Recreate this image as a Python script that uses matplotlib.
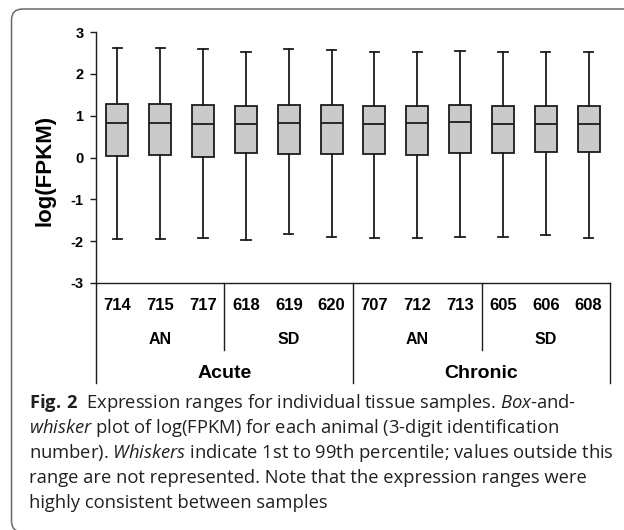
import matplotlib
matplotlib.use("Agg")
import matplotlib.pyplot as plt
import matplotlib.transforms as mtransforms
from matplotlib.patches import FancyBboxPatch

# dados (log FPKM)
amostras = ["714", "715", "717", "618", "619", "620", "707", "712", "713", "605", "606", "608"]
grupos = ["AN", "SD", "AN", "SD"]
fases = ["Acute", "Chronic"]

q1 = [0.04, 0.06, 0.02, 0.10, 0.08, 0.08, 0.08, 0.07, 0.10, 0.10, 0.13, 0.13]
mediana = [0.82, 0.82, 0.81, 0.80, 0.82, 0.83, 0.81, 0.83, 0.84, 0.81, 0.81, 0.81]
q3 = [1.28, 1.28, 1.26, 1.24, 1.26, 1.26, 1.24, 1.24, 1.26, 1.24, 1.24, 1.24]
whis_baixo = [-1.96, -1.96, -1.93, -1.97, -1.84, -1.90, -1.93, -1.93, -1.90, -1.90, -1.85, -1.93]
whis_alto = [2.62, 2.62, 2.60, 2.51, 2.59, 2.57, 2.52, 2.53, 2.55, 2.53, 2.53, 2.51]

legenda = [
    r"$\mathbf{Fig.\,2}$  Expression ranges for individual tissue samples. $\mathit{Box}$-and-",
    r"$\mathit{whisker}$ plot of log(FPKM) for each animal (3-digit identification",
    r"number). $\mathit{Whiskers}$ indicate 1st to 99th percentile; values outside this",
    "range are not represented. Note that the expression ranges were",
    "highly consistent between samples",
]

plt.rcParams["mathtext.fontset"] = "custom"
plt.rcParams["mathtext.rm"] = "Open Sans"
plt.rcParams["mathtext.it"] = "Open Sans:italic"
plt.rcParams["mathtext.bf"] = "Open Sans:bold"

W, H = 624, 530
fig = plt.figure(figsize=(W / 100, H / 100), dpi=100)

# moldura arredondada (coordenadas em pixels)
moldura = FancyBboxPatch((11.5, -2), 660, H - 9 + 2,
                         boxstyle="round,pad=0,rounding_size=11",
                         transform=mtransforms.IdentityTransform(),
                         facecolor="none", edgecolor="#6a6a6a", linewidth=1.1)
fig.add_artist(moldura)

ax_px = (96, 32, 610, 283)  # left, top, right, bottom
ax = fig.add_axes([ax_px[0] / W, 1 - ax_px[3] / H,
                   (ax_px[2] - ax_px[0]) / W, (ax_px[3] - ax_px[1]) / H])
altura = ax_px[3] - ax_px[1]

stats = []
for i in range(len(amostras)):
    stats.append(dict(med=mediana[i], q1=q1[i], q3=q3[i],
                      whislo=whis_baixo[i], whishi=whis_alto[i], fliers=[]))

cor = "#1c1c1c"
ax.bxp(stats, positions=range(len(amostras)), widths=0.51, capwidths=0.22,
       showfliers=False, patch_artist=True,
       boxprops=dict(facecolor="#cacaca", edgecolor=cor, linewidth=1.3),
       medianprops=dict(color=cor, linewidth=1.3),
       whiskerprops=dict(color=cor, linewidth=1.3),
       capprops=dict(color=cor, linewidth=1.3))

ax.set_xlim(-0.5, len(amostras) - 0.5)
ax.set_ylim(-3, 3)
ax.set_yticks(range(-3, 4))
ax.set_yticklabels([str(v) for v in range(-3, 4)])
ax.set_xticks([])
for s in ["top", "right"]:
    ax.spines[s].set_visible(False)
for s in ["left", "bottom"]:
    ax.spines[s].set_linewidth(1.0)
    ax.spines[s].set_color(cor)
ax.tick_params(axis="y", length=4, width=1.0, pad=5, labelsize=10.5, color=cor)
for t in ax.get_yticklabels():
    t.set_fontweight("bold")
    t.set_family("Liberation Sans")

ax.set_ylabel("log(FPKM)", fontsize=16, fontweight="bold", family="Liberation Sans", va="center")
ax.yaxis.set_label_coords((45 - ax_px[0]) / (ax_px[2] - ax_px[0]), (ax_px[3] - 170) / altura)

# tabela de categorias abaixo do eixo
trans = ax.get_xaxis_transform()
def abaixo(p):
    return -p / altura

for i, s in enumerate(amostras):
    ax.text(i, abaixo(22), s, transform=trans, ha="center", va="center",
            fontsize=12, fontweight="bold", family="Liberation Sans", clip_on=False)
for j, g in enumerate(grupos):
    ax.text(3 * j + 1, abaixo(57), g, transform=trans, ha="center", va="center",
            fontsize=11.5, fontweight="bold", family="Liberation Sans", clip_on=False)
for k, f in enumerate(fases):
    ax.text(6 * k + 2.5, abaixo(91), f, transform=trans, ha="center", va="center",
            fontsize=14, fontweight="bold", family="Liberation Sans", clip_on=False)

for x in [2.5, 8.5]:
    ax.plot([x, x], [0, abaixo(67)], transform=trans, color=cor, lw=1.0, clip_on=False)
for x in [-0.5, 5.5, len(amostras) - 0.5]:
    ax.plot([x, x], [0, abaixo(100)], transform=trans, color=cor, lw=1.0, clip_on=False)

# legenda da figura
for n, linha in enumerate(legenda):
    fig.text(29 / W, 1 - (408 + 25 * n) / H, linha, ha="left", va="baseline",
             fontsize=13.25, family="Open Sans", color="#231f20")

fig.savefig("out.png", dpi=100)
